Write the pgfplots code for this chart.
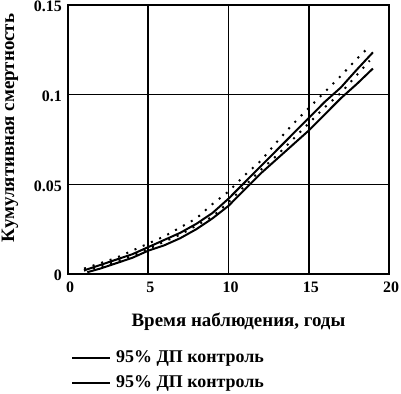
\documentclass[border=0pt]{standalone}
\usepackage{fontspec}
\setmainfont{Liberation Serif}
\usepackage{pgfplots}
\pgfplotsset{compat=1.18}
\begin{document}
\fontsize{15}{17}\selectfont\bfseries
\begin{tikzpicture}
\begin{axis}[
  name=ax,
  scale only axis,
  width=321bp, height=269bp,
  xmin=0, xmax=20, ymin=0, ymax=0.15,
  xtick={0,5,10,15,20},
  xticklabels={\textbf{0},\textbf{5},\textbf{10},\textbf{15},\textbf{20}},
  ytick={0,0.05,0.1,0.15},
  yticklabels={\textbf{0},\textbf{0.05},\textbf{0.1},\textbf{0.15}},
  major tick length=0pt,
  grid=major,
  grid style={black, line width=1.5bp},
  axis line style={black, line width=2bp},
  x tick label style={font=\fontsize{16}{18}\selectfont\bfseries, yshift=-3bp, xshift=2bp},
  y tick label style={font=\fontsize{16}{18}\selectfont\bfseries, xshift=-1bp, yshift=-1.5bp},
  xlabel={Время наблюдения, годы},
  ylabel={Кумулятивная смертность},
  every axis x label/.style={at={(axis description cs:0.531,-0.178)}, anchor=center, font=\fontsize{19}{21}\selectfont\bfseries},
  every axis y label/.style={at={(axis description cs:-0.181,0.543)}, rotate=90, anchor=center, font=\fontsize{19}{21}\selectfont\bfseries},
  legend style={at={(axis description cs:0.0,-0.27)}, anchor=north west, draw=none, fill=none,
    font=\fontsize{18}{20}\selectfont\bfseries, row sep=7bp,
    legend cell align=left},
  legend image code/.code={\draw[#1, line width=2bp] (0bp,0bp) -- (38bp,0bp);},
  clip=false,
]
% control 95% CI upper
\addplot[black, line width=2bp] coordinates {
(1,0.002) (2,0.005) (3,0.008) (4,0.011) (5,0.015) (6,0.019) (7,0.023) (8,0.028) (9,0.034) (10,0.042)
(11,0.051) (12,0.060) (13,0.069) (14,0.078) (15,0.087) (16,0.096) (17,0.104) (18,0.114) (19,0.1236)};
\addlegendentry{\hspace{3bp}95\% ДП контроль}
% control 95% CI lower
\addplot[black, line width=2bp] coordinates {
(1.2,0.001) (2,0.003) (3,0.006) (4,0.009) (5,0.013) (6,0.016) (7,0.020) (8,0.025) (9,0.031) (10,0.038)
(11,0.047) (12,0.056) (13,0.064) (14,0.072) (15,0.080) (16,0.089) (17,0.098) (18,0.106) (19,0.1146)};
\addlegendentry{\hspace{3bp}95\% ДП контроль}
% dotted upper
\addplot[black, line width=2bp, dash pattern=on 2bp off 7bp, forget plot] coordinates {
(1,0.003) (2,0.006) (3,0.009) (4,0.013) (5,0.017) (6,0.021) (7,0.026) (8,0.031) (9,0.039) (10,0.046)
(11,0.055) (12,0.063) (13,0.0735) (14,0.0835) (15,0.0925) (16,0.1015) (17,0.1105) (18,0.120) (18.8,0.127)};
% dotted lower
\addplot[black, line width=2bp, dash pattern=on 2bp off 7bp, forget plot] coordinates {
(1,0.002) (2,0.004) (3,0.007) (4,0.010) (5,0.014) (6,0.018) (7,0.022) (8,0.027) (9,0.032) (10,0.040)
(11,0.049) (12,0.058) (13,0.066) (14,0.075) (15,0.084) (16,0.093) (17,0.101) (18,0.111) (18.8,0.119)};
\end{axis}
\pgfresetboundingbox
\path[use as bounding box] ([xshift=-68bp,yshift=-120bp]ax.south west) rectangle ++(401bp,394bp);
\end{tikzpicture}
\end{document}
